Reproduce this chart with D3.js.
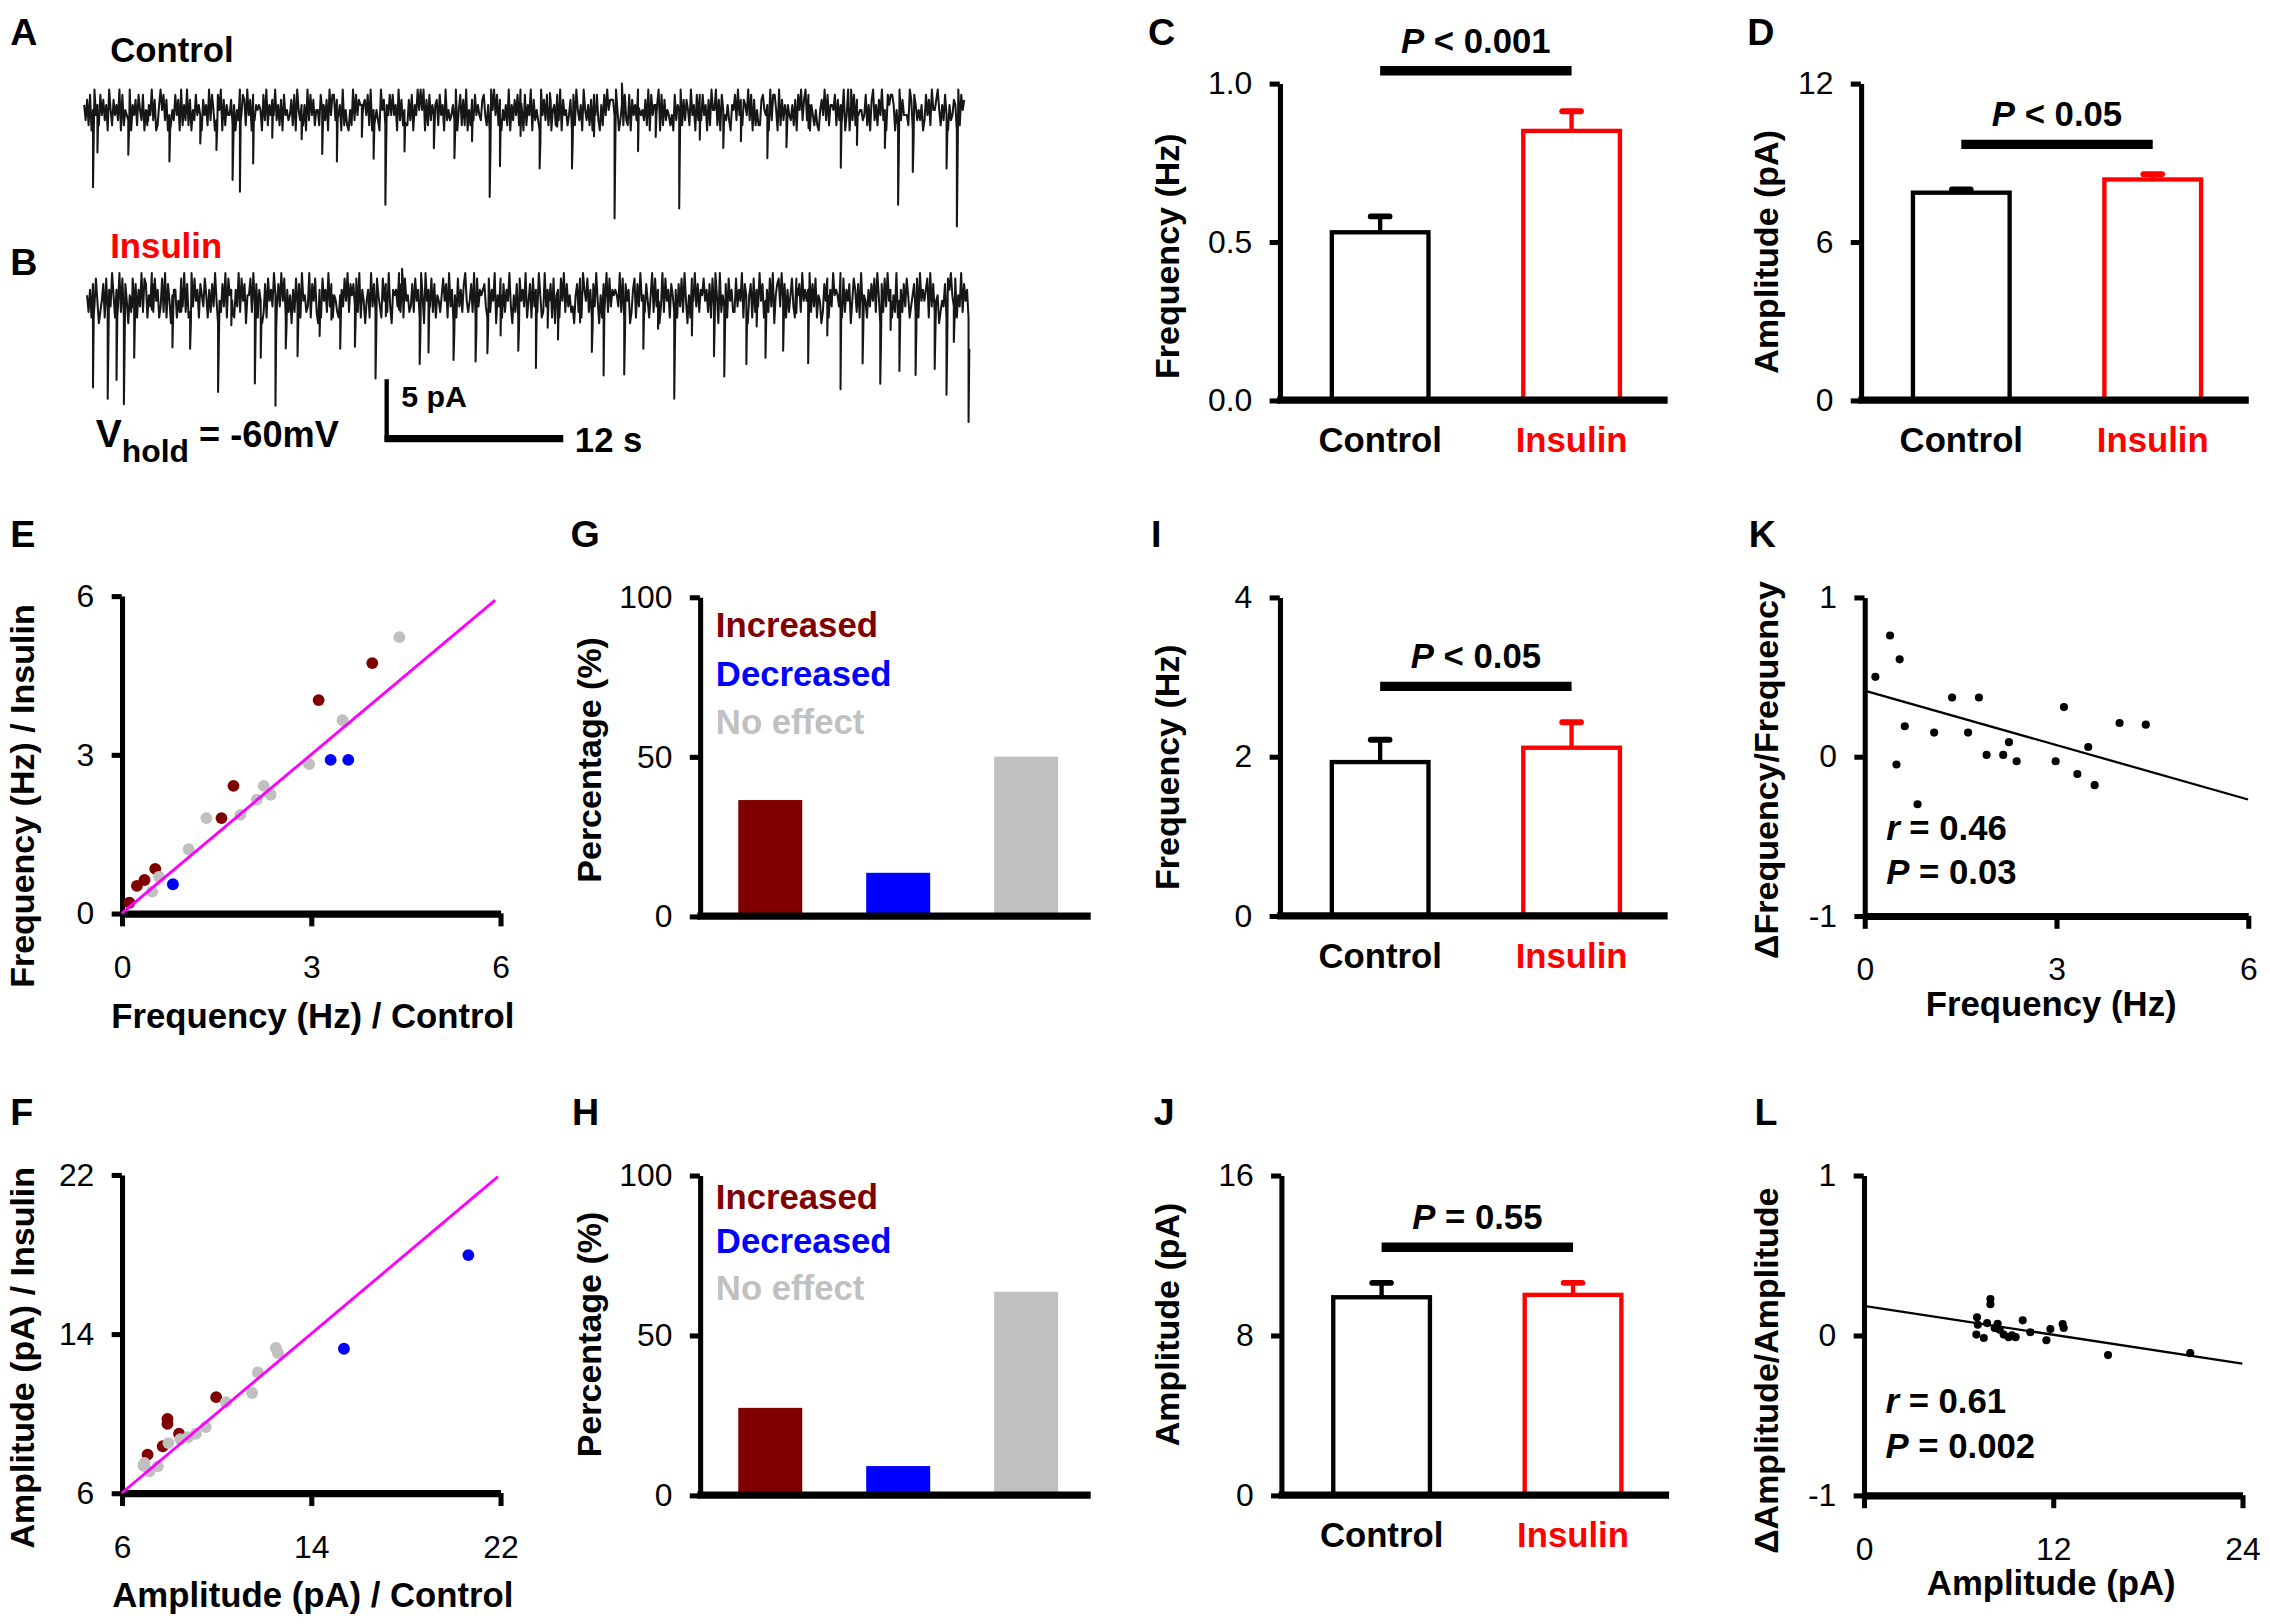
<!DOCTYPE html>
<html><head><meta charset="utf-8">
<script src="https://cdn.jsdelivr.net/npm/d3@7/dist/d3.min.js"></script>
<style>html,body{margin:0;padding:0;background:#fff;}svg{display:block;}</style>
</head><body><svg id="fig"></svg>
<script>
// ---------------- DATA ----------------
const groups = ["Control", "Insulin"];
const groupColors = ["#000000", "#ff0000"];
// C: frequency (baseline recordings)
const freqMeanC = [0.53, 0.85];
const freqSemC = [0.05, 0.062];
const freqTicksC = [0, 0.5, 1.0];
// D: amplitude
const ampMeanD = [7.86, 8.36];
const ampSemD = [0.12, 0.2];
const ampTicksD = [0, 6, 12];
// I: frequency (subset)
const freqMeanI = [1.93, 2.11];
const freqSemI = [0.28, 0.32];
const freqTicksI = [0, 2, 4];
// J: amplitude (subset)
const ampMeanJ = [9.9, 10.02];
const ampSemJ = [0.72, 0.6];
const ampTicksJ = [0, 8, 16];
// significance bars (value height) and labels
const sigLevels = [1.04, 9.69, 2.88, 12.4];
const sigSymbols = ["<", "<", "<", "="];
const sigValues = ["0.001", "0.05", "0.05", "0.55"];

// G / H: effect percentages
const effectCats = ["Increased", "Decreased", "No effect"];
const effectColors = ["#800000", "#0000ff", "#c0c0c0"];
const freqEffectPct = [36.4, 13.6, 50.0];
const ampEffectPct = [27.3, 9.1, 63.6];
const pctTicks = [0, 50, 100];

// E: frequency control vs insulin [control, insulin, effect index]
const freqPairs = [
  [0.12, 0.20, 0], [0.24, 0.52, 0], [0.36, 0.63, 0], [0.53, 0.84, 0],
  [1.58, 1.80, 0], [1.77, 2.41, 0], [3.12, 4.03, 0], [3.97, 4.73, 0],
  [0.81, 0.55, 1], [3.31, 2.90, 1], [3.59, 2.90, 1],
  [0.48, 0.41, 2], [0.59, 0.69, 2], [1.06, 1.21, 2], [1.34, 1.80, 2],
  [1.88, 1.86, 2], [2.14, 2.15, 2], [2.25, 2.41, 2], [2.36, 2.24, 2],
  [2.97, 2.82, 2], [3.50, 3.65, 2], [4.40, 5.22, 2]
];
const freqTicksE = [0, 3, 6];
const identityE = [0, 5.92];

// F: amplitude control vs insulin
const ampPairs = [
  [7.09, 7.93, 0], [7.73, 8.35, 0], [7.93, 9.72, 0], [7.93, 9.48, 0],
  [8.42, 8.98, 0], [9.99, 10.82, 0],
  [15.39, 13.25, 1], [20.65, 17.96, 1],
  [6.96, 7.51, 2], [7.17, 7.09, 2], [7.52, 7.34, 2], [7.97, 8.51, 2],
  [8.47, 8.71, 2], [8.79, 8.80, 2], [9.13, 8.98, 2], [9.55, 9.32, 2],
  [10.40, 10.56, 2], [11.51, 11.03, 2], [11.75, 12.06, 2], [12.51, 13.29, 2],
  [12.60, 13.04, 2], [6.92, 7.37, 2]
];
const ampTicksF = [6, 14, 22];
const identityF = [6, 21.9];

// K: baseline frequency vs relative change
const freqChange = [
  [0.17, 0.50], [0.40, 0.76], [0.55, 0.61], [0.63, 0.19], [0.50, -0.05],
  [0.83, -0.30], [1.09, 0.15], [1.37, 0.37], [1.62, 0.15], [1.79, 0.37],
  [1.91, 0.01], [2.17, 0.01], [2.26, 0.09], [2.38, -0.03], [2.99, -0.03],
  [3.12, 0.31], [3.33, -0.11], [3.50, 0.06], [3.60, -0.18], [3.99, 0.21],
  [4.40, 0.20]
];
const freqTicksK = [0, 3, 6];
const changeTicks = [-1, 0, 1];
const fitKx = [0, 6];
const fitKy = [0.414, -0.27];

// L: baseline amplitude vs relative change
const ampChange = [
  [8.03, 0.227], [8.03, 0.194], [7.18, 0.112], [7.23, 0.066], [7.14, 0.004],
  [7.61, -0.017], [7.82, 0.076], [8.49, 0.072], [8.62, 0.035], [8.87, 0.004],
  [9.19, -0.012], [9.63, -0.012], [10.08, 0.093], [10.56, 0.019], [11.58, -0.031],
  [11.83, 0.039], [12.61, 0.070], [12.68, 0.045], [15.49, -0.124], [20.70, -0.112],
  [8.30, 0.045], [9.40, 0.000]
];
const ampTicksL = [0, 12, 24];
const fitLx = [0, 24];
const fitLy = [0.184, -0.178];

// A / B: recordings (60 s). baseline noise digits (0-9) and events [time s, amplitude pA]
const controlNoise =
  "6372815946284736195274639182543916472853815264937126958371425384719263927153846417462938513859172644" +
  "7261539487294718365651839264749362718453472819536261938472552856371948837461925215293847666748291535" +
  "3195726484846193725227381649595917283646728461935346391582729152738464378426195948271536291637482951" +
  "8264917353194738261562839174524718295361953627184831628495777495136283281746395453729184666918273542" +
  "4183659273752946183838461729559271854363165839472764938172522785461938851927364643627185937938164252" +
  "1574938266582736491491638274553482617936274935186886152937444297186353613847295579526384163476192857";
const insulinNoise =
  "5261738402471826395163928174052847163928715392846138291740566142839271293846175385162739404273918562" +
  "1639284705582937164027184639537394816250628371945239174820618462937154215638492757382916404619372853" +
  "1847293065639271845237284619509463827154258471936051836279424729183656731826490538172649305271846391" +
  "4718362951293647180561849273523057281964826173940517492836565392817460268173945274159283603928461752" +
  "6173829405184937265846271839509253718462283649175057182639471462839057839471625831857294646927381540" +
  "2748163956539182647048627193541637482950728394615291462738513572819464681937245024371869538153927461";
const controlEvents = [
  [0.6, 6.5], [0.9, 4.0], [3.0, 2.9], [5.8, 3.9], [7.9, 2.4], [9.0, 2.5], [10.1, 4.6], [10.6, 8.6],
  [11.5, 5.8], [12.8, 3.2], [14.8, 2.9], [16.2, 3.7], [17.2, 5.2], [18.9, 2.7], [19.7, 4.1], [20.5, 6.7],
  [21.8, 3.5], [23.8, 2.8], [25.2, 3.2], [26.4, 3.5], [27.6, 5.6], [28.3, 5.6], [29.7, 3.9], [31.0, 3.2],
  [32.2, 2.7], [33.2, 3.2], [34.7, 3.5], [36.1, 8.7], [37.7, 5.2], [38.9, 2.7], [40.5, 8.3], [41.9, 3.8],
  [43.5, 3.2], [44.7, 3.5], [46.5, 4.5], [47.8, 2.7], [49.3, 2.8], [51.5, 5.3], [52.6, 3.8], [54.5, 3.2],
  [55.4, 6.7], [56.4, 3.5], [58.7, 4.5], [59.4, 8.1],
  [4.3, -1.2], [31.7, -1.0], [36.6, -1.8], [52.2, -1.3]
];
const insulinEvents = [
  [0.4, 8.7], [1.4, 7.3], [2.0, 7.6], [2.5, 7.3], [3.2, 4.8], [4.4, 3.1], [5.8, 4.4], [7.0, 3.1],
  [8.9, 5.8], [11.4, 6.5], [11.8, 4.8], [12.8, 9.3], [14.3, 4.2], [15.8, 3.9], [17.2, 4.5], [18.2, 3.4],
  [19.6, 5.6], [21.2, 3.1], [22.6, 3.9], [23.2, 5.3], [24.9, 3.1], [26.4, 3.7], [28.1, 4.8], [30.5, 6.6],
  [32.0, 4.2], [33.5, 3.7], [35.1, 7.7], [36.5, 4.8], [37.8, 4.5], [39.9, 7.3], [41.1, 4.8], [42.6, 4.2],
  [43.3, 5.9], [44.8, 5.8], [46.1, 4.8], [47.3, 4.2], [49.0, 6.2], [50.3, 4.8], [51.2, 9.8], [52.7, 4.8],
  [53.9, 5.1], [55.2, 5.9], [56.3, 5.3], [57.6, 4.8], [58.4, 6.5], [59.9, 8.8],
  [6.4, 2.8], [9.8, 3.0], [13.5, 2.6], [16.6, 3.0], [20.3, 2.7], [27.2, 3.0], [29.3, 2.8], [31.3, 3.2],
  [34.3, 2.9], [38.8, 3.3], [45.5, 3.1], [48.2, 2.9], [54.6, 3.4], [58.9, 3.0],
  [3.0, -1.2], [21.4, -1.3], [57.4, -1.4]
];

// ---------------- DRAWING ----------------
const W = 1568, H = 1122;
const FONT = '"Liberation Sans", Arial, Helvetica, sans-serif';
const svg = d3.select("#fig").attr("width", 2270).attr("height", 1624)
  .attr("viewBox", `0 0 ${W} ${H}`);
svg.append("rect").attr("width", W).attr("height", H).attr("fill", "#fff");

function txt(g, x, y, s, o = {}) {
  return g.append("text").attr("x", x).attr("y", y)
    .attr("font-family", FONT).attr("font-size", o.size || 24)
    .attr("font-weight", o.weight || "bold").attr("fill", o.fill || "#000")
    .attr("text-anchor", o.anchor || "start").text(s);
}
function italicLead(g, x, y, lead, rest, o = {}) {
  const t = g.append("text").attr("x", x).attr("y", y)
    .attr("font-family", FONT).attr("font-size", o.size || 24)
    .attr("font-weight", "bold").attr("fill", "#000")
    .attr("text-anchor", o.anchor || "start");
  t.append("tspan").attr("font-style", "italic").text(lead);
  t.append("tspan").text(rest);
  return t;
}
function yTitle(g, x, y, s) {
  g.append("text").attr("transform", `translate(${x},${y}) rotate(-90)`)
    .attr("dy", "0.35em").attr("text-anchor", "middle")
    .attr("font-family", FONT).attr("font-size", 23.5).attr("font-weight", "bold")
    .attr("fill", "#000").text(s);
}
function styleAxis(ax, domainW, tickW) {
  ax.attr("font-family", FONT);
  ax.select(".domain").attr("stroke", "#000").attr("stroke-width", domainW);
  ax.selectAll(".tick line").attr("stroke", "#000").attr("stroke-width", tickW);
  ax.selectAll(".tick text").attr("font-size", 22).attr("font-family", FONT).attr("fill", "#000");
}
function yAxis(g, scale, x, ticks, fmt) {
  const ax = g.append("g").attr("transform", `translate(${x},0)`)
    .call(d3.axisLeft(scale).tickValues(ticks).tickFormat(fmt || (d => d))
      .tickSize(7).tickSizeOuter(0).tickPadding(12));
  styleAxis(ax, 3.5, 3.5);
  return ax;
}
function xAxis(g, scale, y, ticks) {
  const ax = g.append("g").attr("transform", `translate(0,${y})`)
    .call(d3.axisBottom(scale).tickValues(ticks).tickFormat(d => d)
      .tickSize(9).tickSizeOuter(0).tickPadding(20));
  styleAxis(ax, 5, 3.5);
  return ax;
}

// panel letters
const letters = [["A", 7, 31], ["B", 7, 190], ["C", 793, 31], ["D", 1207, 31],
  ["E", 7, 378], ["G", 394, 378], ["I", 795, 378], ["K", 1208, 378],
  ["F", 7, 777], ["H", 395, 777], ["J", 797, 777], ["L", 1212, 777]];
letters.forEach(([l, x, y]) => txt(svg, x, y, l, { size: 26 }));

// ---- A / B traces ----
function tracePoints(noise, events, k) {
  const n = noise.length, dt = 60 / n;
  const pts = Array.from(noise, (c, i) => ({ t: i * dt, v: (+c - 5) * k }));
  const extra = [];
  events.forEach(([te, a]) => {
    const i = Math.min(n - 1, Math.round(te / dt));
    extra.push({ t: te + dt * 0.02, v: pts[i].v - a });
    extra.push({ t: te + dt * 0.55, v: pts[i].v - a * 0.3 });
  });
  return pts.concat(extra).sort((a, b) => a.t - b.t);
}
const xA = d3.scaleLinear().domain([0, 60]).range([58, 667]);
const yA = d3.scaleLinear().domain([0, -10]).range([76, 158]);
const xB = d3.scaleLinear().domain([0, 60]).range([60, 670]);
const yB = d3.scaleLinear().domain([0, -10]).range([204, 286]);
svg.append("path").datum(tracePoints(controlNoise, controlEvents, 0.43))
  .attr("d", d3.line().x(d => xA(d.t)).y(d => yA(d.v)))
  .attr("fill", "none").attr("stroke", "#161616").attr("stroke-width", 1.4).attr("stroke-linejoin", "round");
svg.append("path").datum(tracePoints(insulinNoise, insulinEvents, 0.47))
  .attr("d", d3.line().x(d => xB(d.t)).y(d => yB(d.v)))
  .attr("fill", "none").attr("stroke", "#161616").attr("stroke-width", 1.4).attr("stroke-linejoin", "round");
txt(svg, 76, 43, "Control", { size: 24 });
txt(svg, 76, 178, "Insulin", { size: 24, fill: "#ff0000" });
// scale bar (5 pA, 12 s)
const sbX = 267, sbY = 303;
const sbLen = xB(12) - xB(0), sbH = yB(-5) - yB(0);
svg.append("line").attr("x1", sbX).attr("x2", sbX).attr("y1", sbY + 2).attr("y2", sbY - sbH)
  .attr("stroke", "#000").attr("stroke-width", 3);
svg.append("line").attr("x1", sbX - 1.5).attr("x2", sbX + sbLen).attr("y1", sbY).attr("y2", sbY)
  .attr("stroke", "#000").attr("stroke-width", 5);
txt(svg, 277, 281, "5 pA", { size: 21 });
txt(svg, 397, 312, "12 s", { size: 24 });
{
  const t = svg.append("text").attr("x", 66).attr("y", 309).attr("font-family", FONT)
    .attr("font-weight", "bold").attr("fill", "#000");
  t.append("tspan").attr("font-size", 27).text("V");
  t.append("tspan").attr("font-size", 22).attr("dy", 10).text("hold");
  t.append("tspan").attr("font-size", 25).attr("dy", -10).text(" = -60mV");
}

// ---- bar panels C, D, I, J ----
function barPanel(o) {
  const g = svg.append("g");
  const y = d3.scaleLinear().domain(o.domain).range([o.yBot, o.yTop]);
  const x = d3.scaleBand().domain(groups).range([o.x0, o.x0 + 271]).paddingInner(0.495).paddingOuter(0.272);
  g.selectAll("rect.bar").data(groups).join("rect")
    .attr("x", d => x(d)).attr("width", x.bandwidth())
    .attr("y", (d, i) => y(o.means[i])).attr("height", (d, i) => y(0) - y(o.means[i]))
    .attr("fill", "#fff").attr("stroke", (d, i) => groupColors[i]).attr("stroke-width", 3);
  g.selectAll("line.err").data(groups).join("line")
    .attr("x1", d => x(d) + x.bandwidth() / 2).attr("x2", d => x(d) + x.bandwidth() / 2)
    .attr("y1", (d, i) => y(o.means[i])).attr("y2", (d, i) => y(o.means[i] + o.sems[i]))
    .attr("stroke", (d, i) => groupColors[i]).attr("stroke-width", 3);
  g.selectAll("line.cap").data(groups).join("line")
    .attr("x1", d => x(d) + x.bandwidth() / 2 - 6.5).attr("x2", d => x(d) + x.bandwidth() / 2 + 6.5)
    .attr("y1", (d, i) => y(o.means[i] + o.sems[i])).attr("y2", (d, i) => y(o.means[i] + o.sems[i]))
    .attr("stroke", (d, i) => groupColors[i]).attr("stroke-width", 4).attr("stroke-linecap", "round");
  yAxis(g, y, o.x0, o.ticks, o.fmt);
  g.append("line").attr("x1", o.x0 - 1.75).attr("x2", o.x0 + 268).attr("y1", y(0)).attr("y2", y(0))
    .attr("stroke", "#000").attr("stroke-width", 5);
  groups.forEach((gr, i) => txt(g, x(gr) + x.bandwidth() / 2, y(0) + 36, gr,
    { anchor: "middle", size: 24, fill: groupColors[i] }));
  const c0 = x(groups[0]) + x.bandwidth() / 2, c1 = x(groups[1]) + x.bandwidth() / 2;
  const sy = y(sigLevels[o.sig]);
  g.append("line").attr("x1", c0).attr("x2", c1).attr("y1", sy).attr("y2", sy)
    .attr("stroke", "#000").attr("stroke-width", 6.5);
  italicLead(g, (c0 + c1) / 2, sy - 12.5, "P", " " + sigSymbols[o.sig] + " " + sigValues[o.sig],
    { anchor: "middle", size: 24 });
  yTitle(g, o.titleX, o.titleY, o.title);
}
barPanel({ x0: 884, yTop: 57.6, yBot: 276.5, domain: [0, 1], ticks: freqTicksC, fmt: d3.format(".1f"),
  means: freqMeanC, sems: freqSemC, sig: 0, title: "Frequency (Hz)", titleX: 806, titleY: 177 });
barPanel({ x0: 1285.5, yTop: 57.6, yBot: 276.5, domain: [0, 12], ticks: ampTicksD,
  means: ampMeanD, sems: ampSemD, sig: 1, title: "Amplitude (pA)", titleX: 1220, titleY: 174 });
barPanel({ x0: 884, yTop: 412.6, yBot: 632.7, domain: [0, 4], ticks: freqTicksI,
  means: freqMeanI, sems: freqSemI, sig: 2, title: "Frequency (Hz)", titleX: 806, titleY: 530 });
barPanel({ x0: 885, yTop: 812, yBot: 1033, domain: [0, 16], ticks: ampTicksJ,
  means: ampMeanJ, sems: ampSemJ, sig: 3, title: "Amplitude (pA)", titleX: 806, titleY: 915 });

// ---- percentage panels G, H ----
function pctPanel(o) {
  const g = svg.append("g");
  const y = d3.scaleLinear().domain([0, 100]).range([o.yBot, o.yTop]);
  const x = d3.scaleBand().domain(effectCats).range([o.x0, o.x0 + 274]).paddingInner(0.5).paddingOuter(0.3);
  g.selectAll("rect").data(effectCats).join("rect")
    .attr("x", d => x(d)).attr("width", x.bandwidth())
    .attr("y", (d, i) => y(o.vals[i])).attr("height", (d, i) => y(0) - y(o.vals[i]))
    .attr("fill", (d, i) => effectColors[i]);
  yAxis(g, y, o.x0, pctTicks);
  g.append("line").attr("x1", o.x0 - 1.75).attr("x2", o.x0 + 270).attr("y1", y(0)).attr("y2", y(0))
    .attr("stroke", "#000").attr("stroke-width", 5);
  effectCats.forEach((c, i) => txt(g, o.x0 + 11, o.legY[i], c, { size: 24, fill: effectColors[i] }));
  yTitle(g, 407, o.titleY, "Percentage (%)");
}
pctPanel({ x0: 483.4, yTop: 412.5, yBot: 633, vals: freqEffectPct, legY: [440, 474, 507], titleY: 525 });
pctPanel({ x0: 483.4, yTop: 812, yBot: 1033, vals: ampEffectPct, legY: [835, 866, 898], titleY: 922 });

// ---- scatter panels E, F ----
function pairPanel(o) {
  const g = svg.append("g");
  const x = d3.scaleLinear().domain(o.domain).range([84, 345.5]);
  const y = d3.scaleLinear().domain(o.domain).range([o.yBot, o.yTop]);
  yAxis(g, y, 84, o.ticks);
  xAxis(g, x, o.yBot, o.ticks);
  [0, 1, 2].forEach(k => {
    g.selectAll(null).data(o.data.filter(d => d[2] === k)).join("circle")
      .attr("cx", d => x(d[0])).attr("cy", d => y(d[1])).attr("r", 4.1)
      .attr("fill", effectColors[k]);
  });
  g.append("line").attr("x1", x(o.ident[0])).attr("y1", y(o.ident[0]))
    .attr("x2", x(o.ident[1])).attr("y2", y(o.ident[1]))
    .attr("stroke", "#ff00ff").attr("stroke-width", 2);
  txt(g, 216, o.yBot + 79, o.xTitle, { anchor: "middle", size: 24 });
  yTitle(g, 15, o.titleY, o.yTitleText);
}
pairPanel({ domain: [0, 6], yTop: 411.7, yBot: 631, ticks: freqTicksE, data: freqPairs, ident: identityE,
  xTitle: "Frequency (Hz) / Control", yTitleText: "Frequency (Hz) / Insulin", titleY: 550 });
pairPanel({ domain: [6, 22], yTop: 811.6, yBot: 1031.5, ticks: ampTicksF, data: ampPairs, ident: identityF,
  xTitle: "Amplitude (pA) / Control", yTitleText: "Amplitude (pA) / Insulin", titleY: 938 });

// ---- correlation panels K, L ----
function corrPanel(o) {
  const g = svg.append("g");
  const x = d3.scaleLinear().domain(o.xDomain).range([o.x0, o.x1]);
  const y = d3.scaleLinear().domain([-1, 1]).range([o.yBot, o.yTop]);
  yAxis(g, y, o.x0, changeTicks);
  xAxis(g, x, o.yBot, o.xTicks);
  g.selectAll("circle").data(o.data).join("circle")
    .attr("cx", d => x(d[0])).attr("cy", d => y(d[1])).attr("r", 2.8).attr("fill", "#000");
  g.append("line").attr("x1", x(o.fitX[0])).attr("y1", y(o.fitY[0]))
    .attr("x2", x(o.fitX[1])).attr("y2", y(o.fitY[1]))
    .attr("stroke", "#000").attr("stroke-width", 1.6);
  italicLead(g, o.x0 + 15, o.rY, "r", " = " + o.r, { size: 24 });
  italicLead(g, o.x0 + 15, o.rY + 31, "P", " = " + o.p, { size: 24 });
  txt(g, 1417, o.yBot + 69, o.xTitle, { anchor: "middle", size: 24 });
  yTitle(g, 1220, o.titleY, o.yTitleText);
}
corrPanel({ x0: 1288, x1: 1553, yTop: 412.6, yBot: 632.7, xDomain: [0, 6], xTicks: freqTicksK,
  data: freqChange, fitX: fitKx, fitY: fitKy, r: "0.46", p: "0.03", rY: 580,
  xTitle: "Frequency (Hz)", yTitleText: "\u0394Frequency/Frequency", titleY: 532 });
corrPanel({ x0: 1287.5, x1: 1549, yTop: 812, yBot: 1033, xDomain: [0, 24], xTicks: ampTicksL,
  data: ampChange, fitX: fitLx, fitY: fitLy, r: "0.61", p: "0.002", rY: 976,
  xTitle: "Amplitude (pA)", yTitleText: "\u0394Amplitude/Amplitude", titleY: 947 });
</script>
</body></html>
